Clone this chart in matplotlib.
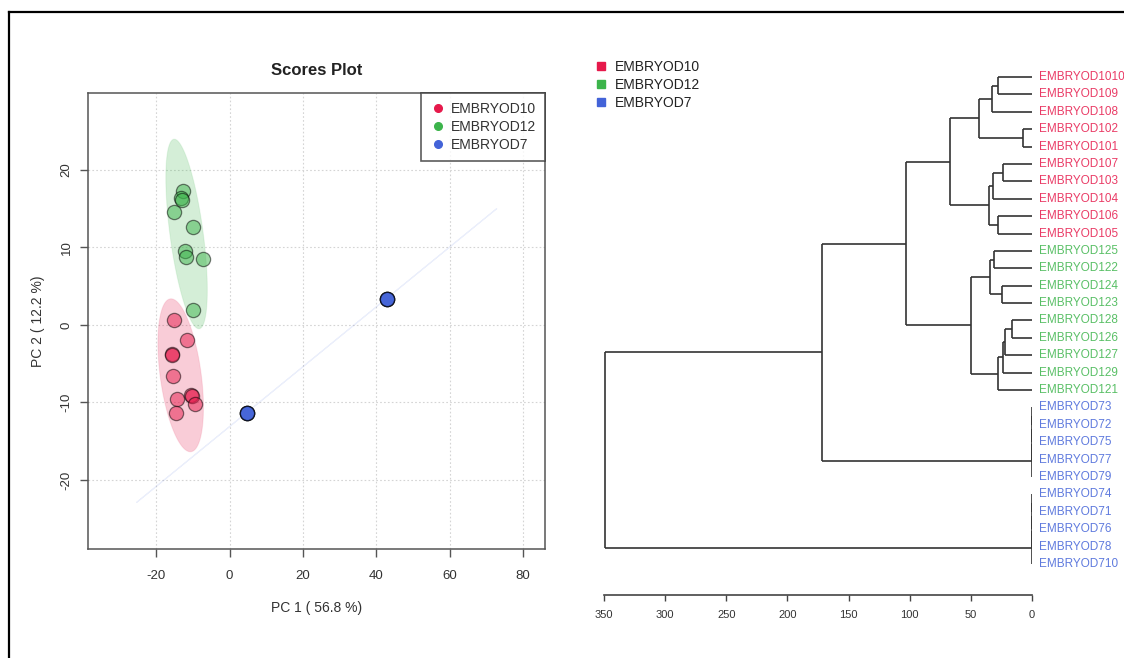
import numpy as np
import matplotlib
matplotlib.use("Agg")
import matplotlib.pyplot as plt
from matplotlib.patches import Polygon
from matplotlib.lines import Line2D

plt.rcParams['font.family'] = ['Liberation Sans', 'DejaVu Sans']
plt.rcParams['axes.unicode_minus'] = False

# ---------------- data ----------------
groups = ["EMBRYOD10", "EMBRYOD12", "EMBRYOD7"]
group_colors = ["#E6194B", "#3CB44B", "#4363D8"]

pc1_d10 = [-15.2, -11.7, -15.8, -15.8, -15.5, -14.3, -10.6, -10.3, -9.4, -14.7]
pc2_d10 = [0.6, -2.0, -3.7, -3.9, -6.6, -9.6, -9.0, -9.2, -10.2, -11.4]
pc1_d12 = [-12.6, -13.3, -13.0, -15.2, -9.9, -12.2, -11.9, -7.3, -10.1]
pc2_d12 = [17.2, 16.3, 16.1, 14.6, 12.6, 9.5, 8.8, 8.5, 1.9]
pc1_d7 = [4.7, 4.7, 4.7, 4.7, 4.7, 42.8, 42.8, 42.8, 42.8, 42.8]
pc2_d7 = [-11.3, -11.3, -11.3, -11.3, -11.3, 3.4, 3.4, 3.4, 3.4, 3.4]

x_label = "PC 1 ( 56.8 %)"
y_label = "PC 2 ( 12.2 %)"
x_ticks = [-20, 0, 20, 40, 60, 80]
y_ticks = [-20, -10, 0, 10, 20]

leaves = ["EMBRYOD1010", "EMBRYOD109", "EMBRYOD108", "EMBRYOD102", "EMBRYOD101",
          "EMBRYOD107", "EMBRYOD103", "EMBRYOD104", "EMBRYOD106", "EMBRYOD105",
          "EMBRYOD125", "EMBRYOD122", "EMBRYOD124", "EMBRYOD123", "EMBRYOD128",
          "EMBRYOD126", "EMBRYOD127", "EMBRYOD129", "EMBRYOD121",
          "EMBRYOD73", "EMBRYOD72", "EMBRYOD75", "EMBRYOD77", "EMBRYOD79",
          "EMBRYOD74", "EMBRYOD71", "EMBRYOD76", "EMBRYOD78", "EMBRYOD710"]
leaf_groups = [0] * 10 + [1] * 9 + [2] * 10

merge_left = ["EMBRYOD1010", "m0", "EMBRYOD102", "m1", "EMBRYOD107", "m4", "EMBRYOD106",
              "m5", "m3", "EMBRYOD125", "EMBRYOD124", "m9", "EMBRYOD128", "m12", "m13",
              "m14", "m11", "m8", "EMBRYOD73", "m18", "m19", "m20", "m17",
              "EMBRYOD74", "m23", "m24", "m25", "m22"]
merge_right = ["EMBRYOD109", "EMBRYOD108", "EMBRYOD101", "m2", "EMBRYOD103", "EMBRYOD104",
               "EMBRYOD105", "m6", "m7", "EMBRYOD122", "EMBRYOD123", "m10", "EMBRYOD126",
               "EMBRYOD127", "EMBRYOD129", "EMBRYOD121", "m15", "m16", "EMBRYOD72",
               "EMBRYOD75", "EMBRYOD77", "EMBRYOD79", "m21", "EMBRYOD71", "EMBRYOD76",
               "EMBRYOD78", "EMBRYOD710", "m26"]
merge_height = [27.5, 33.0, 7.1, 43.3, 23.4, 31.6, 27.5, 34.9, 67.0, 31.0, 24.3, 34.3,
                16.6, 22.0, 23.4, 27.5, 49.9, 103.3, 0, 0, 0, 0, 172.0, 0, 0, 0, 0, 349.0]
dendro_ticks = [350, 300, 250, 200, 150, 100, 50, 0]

# ---------------- figure ----------------
W, H = 1124, 658
fig = plt.figure(figsize=(W / 100, H / 100), dpi=100)

def fx(px):
    return px / W

def fy(py):
    return 1 - py / H

# outer frame (top and left lines)
fig.add_artist(Line2D([fx(9), fx(9)], [fy(12), 0], color="black", lw=1.6))
fig.add_artist(Line2D([fx(9), 1], [fy(12), fy(12)], color="black", lw=1.6))

# ---------------- scores plot ----------------
ax = fig.add_axes([fx(88), fy(549), fx(545) - fx(88), fy(93) - fy(549)])
ax.set_xlim(-38.6, 86.0)
ax.set_ylim(-28.9, 29.9)

pcs = [(pc1_d10, pc2_d10), (pc1_d12, pc2_d12), (pc1_d7, pc2_d7)]
chi = np.sqrt(5.991)
t = np.linspace(0, 2 * np.pi, 200)
for (xs, ys), c in zip(pcs, group_colors):
    X = np.column_stack([xs, ys])
    mu = X.mean(axis=0)
    cov = np.cov(X.T)
    vals, vecs = np.linalg.eigh(cov)
    vals = np.clip(vals, 0, None)
    circ = np.vstack([np.cos(t), np.sin(t)])
    pts = (vecs @ np.diag(np.sqrt(vals) * chi) @ circ).T + mu
    ax.add_patch(Polygon(pts, closed=True, facecolor=(c, 0.22),
                         edgecolor=(c, 0.10), lw=0.8, zorder=1))

for (xs, ys), c in zip(pcs, group_colors):
    ax.scatter(xs, ys, s=105, facecolor=c, alpha=0.5, edgecolor="black",
               linewidth=0.9, zorder=3)

ax.set_xticks(x_ticks)
ax.set_yticks(y_ticks)
ax.grid(True, color="#d4d4d4", linestyle=(0, (1.5, 2)), lw=0.8)
ax.set_axisbelow(True)
for s in ax.spines.values():
    s.set_color("#555555")
    s.set_linewidth(1.1)
ax.tick_params(direction="out", length=6, width=1, color="#555555",
               labelsize=9.5, labelcolor="#333333")
ax.tick_params(axis="x", pad=9)
ax.tick_params(axis="y", pad=5)
for lab in ax.get_yticklabels():
    lab.set_rotation(90)
    lab.set_va("center")
ax.set_xlabel(x_label, fontsize=10, color="#333333", labelpad=14)
ax.set_ylabel(y_label, fontsize=10, color="#333333", labelpad=11)
ax.set_title("Scores Plot", fontsize=12, fontweight="bold", color="#222222", pad=13)

handles = [Line2D([], [], marker="o", linestyle="none", markersize=5.5,
                  markerfacecolor=c, markeredgecolor=c) for c in group_colors]
leg = ax.legend(handles, groups, loc="upper right", fontsize=10, frameon=True,
                fancybox=False, borderaxespad=0, handletextpad=0.3,
                labelspacing=0.28, borderpad=0.65, handlelength=1.2)
leg.get_frame().set_edgecolor("#333333")
leg.get_frame().set_linewidth(1.2)
for txt in leg.get_texts():
    txt.set_color("#333333")

# ---------------- dendrogram ----------------
y_top_px, y_bot_px = 60, 595
leaf0_px, leafN_px = 77, 564
step = (leafN_px - leaf0_px) / (len(leaves) - 1)
ax2 = fig.add_axes([fx(604), fy(y_bot_px), fx(1032) - fx(604), fy(y_top_px) - fy(y_bot_px)])
ax2.set_xlim(350, 0)
ax2.set_ylim(1 + (y_bot_px - leaf0_px) / step, 1 - (leaf0_px - y_top_px) / step)

pos = {name: (i + 1, 0.0) for i, name in enumerate(leaves)}
line_kw = dict(color="#333333", lw=1.2, solid_capstyle="butt")
for k, (a, b, h) in enumerate(zip(merge_left, merge_right, merge_height)):
    ya, ha = pos[a]
    yb, hb = pos[b]
    ax2.plot([ha, h], [ya, ya], **line_kw)
    ax2.plot([hb, h], [yb, yb], **line_kw)
    ax2.plot([h, h], [ya, yb], **line_kw)
    pos["m%d" % k] = ((ya + yb) / 2, h)

for i, (name, g) in enumerate(zip(leaves, leaf_groups)):
    ax2.annotate(name, (0, i + 1), xytext=(5, 0), textcoords="offset points",
                 va="center", ha="left", fontsize=8.5, color=group_colors[g],
                 annotation_clip=False, alpha=0.85)

for s in ["top", "left", "right"]:
    ax2.spines[s].set_visible(False)
ax2.spines["bottom"].set_bounds(0, 350)
ax2.spines["bottom"].set_color("#444444")
ax2.spines["bottom"].set_linewidth(1.2)
ax2.set_yticks([])
ax2.set_xticks(dendro_ticks)
ax2.tick_params(axis="x", direction="out", length=4, width=1, color="#444444",
                labelsize=8, labelcolor="#333333", pad=7)

dhandles = [Line2D([], [], marker="s", linestyle="none", markersize=5.5,
                   markerfacecolor=c, markeredgecolor=c) for c in group_colors]
fig.legend(dhandles, groups, loc="upper left", bbox_to_anchor=(fx(594), fy(60)),
           fontsize=10, frameon=False, handletextpad=0.5, labelspacing=0.3,
           borderaxespad=0, borderpad=0, handlelength=1.0, labelcolor="#222222")

fig.savefig("out.png", dpi=100)
